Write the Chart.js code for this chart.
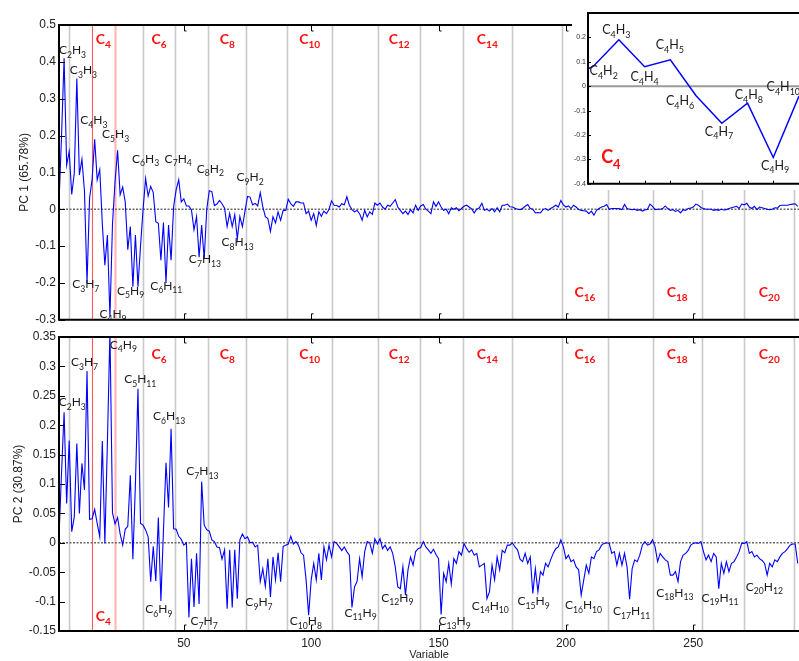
<!DOCTYPE html>
<html>
<head>
<meta charset="utf-8">
<script src="https://cdn.jsdelivr.net/npm/chart.js@4.4.1/dist/chart.umd.min.js"></script>
<style>
  html, body { margin: 0; padding: 0; background: #fff; }
  #wrap { position: relative; width: 799px; height: 661px; overflow: hidden; }
  canvas { position: absolute; }
</style>
</head>
<body>
<div id="wrap">
  <canvas id="pc1" width="799" height="330" style="left:0;top:0"></canvas>
  <canvas id="pc2" width="799" height="339" style="left:0;top:322px"></canvas>
  <canvas id="inset" width="227" height="190" style="left:572px;top:0;background:#fff"></canvas>
</div>
<script>
// Loadings of the first principal component, variables 1..291
const pc1Loadings = [
  0.016, 0.2, 0.41, 0.12, 0.157, 0.04, 0.098, 0.355, 0.093, 0.136,
  0.048, -0.2, 0.03, 0.081, 0.19, 0.08, 0.108, -0.039, -0.152, -0.07,
  -0.292, -0.04, 0.075, 0.16, 0.039, 0.06, 0.02, -0.11, -0.047, -0.21,
  -0.07, -0.21, -0.1, 0.0, 0.083, 0.036, 0.062, 0.045, -0.034, -0.038,
  -0.138, -0.036, -0.2, -0.043, -0.138, 0.007, 0.053, 0.08, 0.02, 0.028,
  0.009, 0.009, -0.002, -0.056, -0.02, -0.13, -0.043, -0.135, 0.0, 0.05,
  0.048, 0.01, 0.014, 0.024, 0.015, 0.003, -0.047, -0.011, -0.047, -0.015,
  -0.08, -0.02, -0.047, -0.006, 0.035, 0.033, 0.012, 0.016, 0.009, 0.045,
  0.007, -0.02, -0.025, -0.06, -0.02, -0.037, -0.007, -0.03, -0.003, -0.003,
  0.027, 0.015, 0.008, 0.02, 0.02, 0.017, 0.017, -0.012, -0.005, -0.03,
  -0.012, -0.044, -0.007, -0.019, -0.005, -0.012, 0.0, 0.023, 0.011, 0.01,
  0.006, 0.015, 0.012, 0.034, 0.011, -0.001, -0.007, -0.003, -0.012, -0.03,
  -0.003, -0.021, -0.007, -0.014, 0.017, 0.011, 0.017, 0.006, 0.0, 0.011,
  0.008, 0.017, 0.026, 0.006, -0.003, -0.012, -0.005, -0.014, -0.001, -0.01,
  0.011, -0.003, 0.009, 0.013, 0.0, -0.005, -0.012, 0.02, 0.008, 0.02,
  0.006, -0.003, 0.0, -0.012, 0.004, 0.0, 0.004, -0.004, 0.002, 0.008,
  0.011, 0.006, 0.001, -0.01, 0.0, 0.004, 0.016, -0.003, 0.0, -0.005,
  0.002, -0.007, 0.004, -0.007, 0.011, 0.011, 0.014, 0.007, 0.006, 0.003,
  0.0, -0.001, 0.002, 0.008, 0.013, 0.002, 0.0, -0.01, -0.009, -0.01,
  -0.001, 0.002, -0.003, 0.002, 0.006, 0.011, 0.006, 0.024, 0.012, 0.006,
  0.009, 0.002, 0.011, 0.006, -0.001, -0.003, -0.004, -0.005, -0.012, -0.005,
  -0.016, -0.003, 0.002, 0.006, 0.008, 0.013, 0.0, 0.002, 0.002, 0.002,
  0.001, -0.001, 0.013, 0.002, 0.0, -0.001, 0.0, -0.003, -0.001, -0.005,
  -0.002, 0.0, 0.014, 0.008, -0.001, 0.0, 0.0, 0.002, 0.009, 0.002,
  -0.003, -0.001, -0.006, -0.003, -0.01, -0.001, -0.003, 0.002, 0.003, 0.006,
  0.014, 0.011, 0.005, 0.002, 0.0, 0.0, 0.0, -0.003, -0.001, -0.003,
  0.0, -0.002, -0.001, 0.002, 0.004, 0.006, 0.008, 0.002, 0.014, 0.012,
  0.016, 0.006, 0.002, 0.008, -0.001, 0.006, 0.004, 0.002, 0.0, -0.001,
  0.0, 0.004, 0.003, 0.01, 0.011, 0.011, 0.011, 0.013, 0.014, 0.015,
  0.008
];

// Loadings of the second principal component, variables 1..291
const pc2Loadings = [
  0.01, 0.12, 0.222, 0.067, 0.174, 0.019, 0.044, 0.169, 0.05, 0.135,
  0.09, 0.292, 0.04, 0.041, 0.057, 0.033, 0.01, 0.173, -0.001, 0.17,
  0.36, 0.051, 0.032, 0.043, 0.015, -0.004, 0.023, 0.028, 0.115, -0.028,
  0.1, 0.262, 0.033, 0.03, 0.022, 0.01, -0.066, -0.006, -0.065, 0.043,
  -0.099, 0.02, 0.136, 0.06, 0.194, 0.024, 0.023, 0.011, 0.006, -0.004,
  0.0, -0.127, -0.027, -0.109, -0.018, -0.104, 0.104, 0.03, 0.022, 0.02,
  0.005, 0.002, -0.007, -0.008, -0.028, -0.012, -0.112, -0.012, -0.11, -0.012,
  -0.095, 0.005, 0.015, 0.007, 0.01, 0.0, 0.001, -0.007, -0.004, -0.066,
  -0.044, -0.074, -0.027, -0.092, -0.024, -0.063, -0.017, -0.066, -0.006, -0.004,
  -0.002, 0.011, -0.002, 0.002, -0.004, -0.017, -0.021, -0.063, -0.123, -0.063,
  -0.035, -0.063, -0.018, -0.063, -0.007, -0.029, -0.004, -0.024, 0.002, -0.001,
  -0.007, -0.013, -0.007, -0.015, -0.021, -0.11, -0.075, -0.066, -0.027, -0.058,
  -0.015, 0.002, 0.0, -0.018, 0.007, -0.002, 0.007, -0.01, -0.004, -0.013,
  -0.007, -0.018, -0.041, -0.075, -0.078, -0.041, -0.089, -0.046, -0.024, -0.038,
  -0.015, -0.01, -0.008, 0.002, -0.007, -0.012, -0.018, -0.011, -0.02, -0.027,
  -0.122, -0.052, -0.066, -0.035, -0.07, -0.027, -0.035, -0.015, -0.021, -0.001,
  -0.01, -0.016, -0.012, -0.021, -0.018, -0.041, -0.038, -0.035, -0.095, -0.083,
  -0.038, -0.063, -0.024, -0.046, -0.013, -0.017, -0.004, -0.004, 0.0, -0.007,
  -0.012, -0.028, -0.032, -0.018, -0.035, -0.024, -0.086, -0.044, -0.083, -0.049,
  -0.055, -0.035, -0.041, -0.029, -0.018, -0.01, -0.007, 0.005, -0.007, -0.027,
  -0.021, -0.032, -0.029, -0.041, -0.046, -0.089, -0.063, -0.038, -0.052, -0.024,
  -0.027, -0.015, -0.012, -0.004, -0.001, 0.0, -0.001, -0.018, -0.015, -0.038,
  -0.018, -0.038, -0.018, -0.041, -0.096, -0.044, -0.029, -0.032, -0.021, -0.004,
  0.002, -0.004, -0.002, 0.005, -0.007, -0.032, -0.018, -0.024, -0.029, -0.032,
  -0.055, -0.055, -0.049, -0.066, -0.032, -0.021, -0.018, -0.013, -0.004, -0.001,
  0.0, -0.001, 0.002, -0.015, -0.029, -0.021, -0.032, -0.018, -0.024, -0.078,
  -0.035, -0.052, -0.032, -0.049, -0.035, -0.032, -0.024, -0.015, -0.001, -0.001,
  0.002, -0.018, -0.015, -0.024, -0.021, -0.027, -0.03, -0.035, -0.055, -0.035,
  -0.041, -0.029, -0.032, -0.024, -0.018, -0.015, -0.01, -0.004, -0.002, -0.002,
  -0.035
];

// Separators between carbon-number groups (C2|C3, C3|C4, ... C20|C21), in variable units
const groupBounds = [4.8, 13.9, 22.8, 33.9, 46.6, 59.6, 74.5, 90.5, 108.3, 126.2,
                     142.9, 159.6, 178.7, 198.3, 216.6, 234.1, 253.3, 270.1, 289.6];

// Carbon numbers written in red above/below each even group
const pc1TopGroups = [4, 6, 8, 10, 12, 14];
const pc1BottomGroups = [16, 18, 20];
const pc2TopGroups = [6, 8, 10, 12, 14, 16, 18, 20];
const pc2BottomGroups = [4];

// Fragment labels: [formula, variable, loading]
const pc1Fragments = [
  ['C2H3', 6.3, 0.421], ['C3H3', 10.6, 0.367], ['C4H3', 14.7, 0.23], ['C5H3', 23.2, 0.192],
  ['C6H3', 35.0, 0.126], ['C7H4', 47.8, 0.126], ['C8H2', 60.4, 0.099], ['C9H2', 76.0, 0.076],
  ['C3H7', 11.5, -0.214], ['C4H9', 22.2, -0.295], ['C5H9', 29.1, -0.232], ['C6H11', 43.1, -0.218],
  ['C7H13', 58.3, -0.146], ['C8H13', 71.1, -0.1]
];
const pc2Fragments = [
  ['C2H3', 6.2, 0.232], ['C3H7', 11.0, 0.300], ['C4H9', 26.3, 0.330], ['C5H11', 32.9, 0.271],
  ['C6H13', 44.2, 0.208], ['C7H13', 57.3, 0.115], ['C6H9', 40.2, -0.12], ['C7H7', 58.0, -0.14],
  ['C9H7', 79.5, -0.108], ['C10H8', 97.9, -0.14], ['C11H9', 119.4, -0.126], ['C12H9', 133.8, -0.1],
  ['C13H9', 156.3, -0.14], ['C14H10', 170.3, -0.114], ['C15H9', 187.3, -0.106], ['C16H10', 206.9, -0.113],
  ['C17H11', 225.8, -0.123], ['C18H13', 242.8, -0.092], ['C19H11', 260.5, -0.1], ['C20H12', 277.9, -0.0815]
];
const c4Fragments = [
  ['C4H2', 14.41, 0.045], ['C4H3', 14.9, 0.212], ['C4H4', 16.0, 0.022], ['C4H5', 16.98, 0.151],
  ['C4H6', 17.38, -0.078], ['C4H7', 18.89, -0.203], ['C4H8', 20.05, -0.053], ['C4H9', 21.07, -0.342],
  ['C4H10', 21.39, -0.019]
];
const c4Tag = ['C4', 14.69, -0.316];

// Axis tick values
const variableTicks = [50, 100, 150, 200, 250];
const pc1Ticks = [-0.3, -0.2, -0.1, 0, 0.1, 0.2, 0.3, 0.4, 0.5];
const pc2Ticks = [-0.15, -0.1, -0.05, 0, 0.05, 0.1, 0.15, 0.2, 0.25, 0.3, 0.35];
const c4Ticks = [-0.4, -0.3, -0.2, -0.1, 0, 0.1, 0.2];
const c4Variables = [14, 15, 16, 17, 18, 19, 20, 21, 22];

const LABEL_FONT = "Lato, 'Open Sans', sans-serif";
const AXIS_FONT = "'Liberation Sans', Arial, sans-serif";

// Chemical formula with subscripted counts, centred on cx, main baseline at y
function drawFormula(ctx, text, cx, y, size, bold, color) {
  const parts = text.match(/[A-Za-z]+|\d+/g);
  const subSize = size * 0.72;
  const w8 = bold ? 'bold ' : '';
  let total = 0;
  const widths = parts.map(p => {
    ctx.font = w8 + (/\d/.test(p) ? subSize : size) + 'px ' + LABEL_FONT;
    const w = ctx.measureText(p).width;
    total += w;
    return w;
  });
  let x = cx - total / 2;
  ctx.fillStyle = color;
  ctx.textAlign = 'left';
  ctx.textBaseline = 'alphabetic';
  parts.forEach((p, k) => {
    const isNum = /\d/.test(p);
    ctx.font = w8 + (isNum ? subSize : size) + 'px ' + LABEL_FONT;
    ctx.fillText(p, x, isNum ? y + size * 0.3 : y);
    x += widths[k];
  });
}

const decor = {
  id: 'decor',
  beforeDatasetsDraw(chart, args, o) {
    const { ctx, chartArea: a, scales: { x, y } } = chart;
    ctx.save();
    ctx.beginPath();
    ctx.rect(a.left, a.top, a.right - a.left, a.bottom - a.top);
    ctx.clip();
    (o.bounds || []).forEach((b, k) => {
      const px = Math.round(x.getPixelForValue(b)) + 0.5;
      if (k === 1) { ctx.strokeStyle = '#ff5a5a'; ctx.lineWidth = 1.1; }
      else if (k === 2) { ctx.strokeStyle = '#ffb8b8'; ctx.lineWidth = 2.2; }
      else { ctx.strokeStyle = '#c9c9c9'; ctx.lineWidth = 1.6; }
      ctx.beginPath(); ctx.moveTo(px, a.top); ctx.lineTo(px, a.bottom); ctx.stroke();
    });
    const zy = y.getPixelForValue(0);
    ctx.strokeStyle = o.zeroColor;
    ctx.lineWidth = o.zeroWidth;
    ctx.setLineDash(o.zeroDash);
    ctx.beginPath(); ctx.moveTo(a.left, zy); ctx.lineTo(a.right, zy); ctx.stroke();
    ctx.restore();
  },
  afterDatasetsDraw(chart, args, o) {
    const { ctx, chartArea: a, scales: { x, y } } = chart;
    ctx.save();
    ctx.beginPath();
    ctx.rect(a.left, a.top, a.right - a.left, a.bottom - a.top);
    ctx.clip();
    (o.fragments || []).forEach(([t, vx, vy]) => {
      drawFormula(ctx, t, x.getPixelForValue(vx), y.getPixelForValue(vy), o.labelSize, false, '#1a1a1a');
    });
    const center = n => (o.bounds[n - 3] + o.bounds[n - 2]) / 2;
    (o.topGroups || []).forEach(n => {
      drawFormula(ctx, 'C' + n, x.getPixelForValue(center(n)), a.top + o.topOffset, 14, true, '#ff1010');
    });
    (o.bottomGroups || []).forEach(n => {
      drawFormula(ctx, 'C' + n, x.getPixelForValue(center(n)), a.bottom - o.bottomOffset, 14, true, '#ff1010');
    });
    if (o.tag) {
      drawFormula(ctx, o.tag[0], x.getPixelForValue(o.tag[1]), y.getPixelForValue(o.tag[2]), 18, true, '#ff1010');
    }
    ctx.restore();

    // frame (the right side runs past the page edge)
    ctx.save();
    ctx.strokeStyle = '#000';
    ctx.lineWidth = o.frameWidth;
    ctx.beginPath();
    ctx.moveTo(a.right + 2, a.top); ctx.lineTo(a.left, a.top);
    ctx.lineTo(a.left, a.bottom); ctx.lineTo(a.right + 2, a.bottom);
    ctx.stroke();
    // inward tick marks
    ctx.lineWidth = 1;
    (o.yTicks || []).forEach(v => {
      const py = Math.round(y.getPixelForValue(v)) + 0.5;
      ctx.beginPath(); ctx.moveTo(a.left, py); ctx.lineTo(a.left + o.tickLen, py); ctx.stroke();
    });
    (o.xTicks || []).forEach(v => {
      const px = Math.round(x.getPixelForValue(v)) + 0.5;
      ctx.beginPath(); ctx.moveTo(px, a.bottom); ctx.lineTo(px, a.bottom - o.tickLen);
      if (o.hooks) ctx.lineTo(px + 2, a.bottom - o.tickLen);
      ctx.stroke();
      if (o.topTicks) {
        ctx.beginPath(); ctx.moveTo(px, a.top); ctx.lineTo(px, a.top + o.tickLen);
        if (o.hooks) ctx.lineTo(px + 2, a.top + o.tickLen);
        ctx.stroke();
      }
    });
    ctx.restore();
  }
};

function series(values, first) {
  return values.map((v, k) => ({ x: first + k, y: v }));
}

function fmt(v) { return String(+(+v).toFixed(2)); }

function panel(id, data, cfg) {
  return new Chart(document.getElementById(id), {
    type: 'line',
    data: { datasets: [{ data, borderColor: '#0000ff', borderWidth: cfg.lineWidth, pointRadius: 0, tension: 0, fill: false }] },
    options: {
      responsive: false,
      animation: false,
      devicePixelRatio: 1,
      parsing: false,
      layout: { padding: cfg.padding },
      plugins: { legend: { display: false }, tooltip: { enabled: false }, decor: cfg.decor },
      scales: {
        x: {
          type: 'linear', min: cfg.xMin, max: cfg.xMax,
          display: cfg.showX,
          grid: { display: false, drawTicks: false },
          border: { display: false },
          afterBuildTicks: s => { s.ticks = cfg.xTicks.map(v => ({ value: v })); },
          afterFit: s => { if (cfg.showX) s.height = cfg.xHeight; },
          ticks: { color: '#222', font: { family: AXIS_FONT, size: 12 }, padding: 5, maxRotation: 0, callback: v => String(v) },
          title: { display: cfg.showX, text: 'Variable', color: '#222', font: { family: AXIS_FONT, size: 11 }, padding: { top: 0, bottom: -1 } }
        },
        y: {
          type: 'linear', min: cfg.yMin, max: cfg.yMax,
          grid: { display: false, drawTicks: false },
          border: { display: false },
          afterBuildTicks: s => { s.ticks = cfg.yTicks.map(v => ({ value: v })); },
          afterFit: s => { s.width = cfg.yWidth; },
          ticks: { color: cfg.tickColor, font: { family: AXIS_FONT, size: cfg.tickSize }, padding: cfg.tickPad, callback: fmt },
          title: { display: !!cfg.yTitle, text: cfg.yTitle, color: '#222', font: { family: AXIS_FONT, size: 12 }, padding: { top: cfg.titlePad } }
        }
      }
    },
    plugins: [decor]
  });
}

panel('pc1', series(pc1Loadings, 1), {
  xMin: 1, xMax: 291.5, yMin: -0.3, yMax: 0.5, showX: false, xTicks: variableTicks, yTicks: pc1Ticks,
  padding: { top: 25, bottom: 10, left: 0, right: 0 }, yWidth: 59, tickPad: 3, tickSize: 12, tickColor: '#222',
  yTitle: 'PC 1 (65.78%)', titlePad: 17, lineWidth: 1.1,
  decor: {
    bounds: groupBounds, zeroColor: '#6a6a6a', zeroWidth: 1.4, zeroDash: [2, 1.5],
    fragments: pc1Fragments, labelSize: 12, topGroups: pc1TopGroups, bottomGroups: pc1BottomGroups,
    topOffset: 19, bottomOffset: 23, frameWidth: 2, yTicks: pc1Ticks, xTicks: variableTicks,
    tickLen: 6, topTicks: true, hooks: true
  }
});

panel('pc2', series(pc2Loadings, 1), {
  xMin: 1, xMax: 291.5, yMin: -0.15, yMax: 0.35, showX: true, xHeight: 30, xTicks: variableTicks, yTicks: pc2Ticks,
  padding: { top: 15, bottom: 0, left: 0, right: 0 }, yWidth: 59, tickPad: 3, tickSize: 12, tickColor: '#222',
  yTitle: 'PC 2 (30.87%)', titlePad: 11.5, lineWidth: 1.1,
  decor: {
    bounds: groupBounds, zeroColor: '#6a6a6a', zeroWidth: 1.4, zeroDash: [2, 1.5],
    fragments: pc2Fragments, labelSize: 12, topGroups: pc2TopGroups, bottomGroups: pc2BottomGroups,
    topOffset: 22, bottomOffset: 10, frameWidth: 2, yTicks: pc2Ticks, xTicks: variableTicks,
    tickLen: 6, topTicks: true, hooks: true
  }
});

panel('inset', series(pc1Loadings.slice(12, 22), 13), {
  xMin: 13.8, xMax: 22, yMin: -0.4, yMax: 0.3, showX: false, xTicks: c4Variables, yTicks: c4Ticks,
  padding: { top: 13, bottom: 5, left: 0, right: 0 }, yWidth: 16, tickPad: 2, tickSize: 7, tickColor: '#333',
  yTitle: '', titlePad: 0, lineWidth: 1.5,
  decor: {
    bounds: [], zeroColor: '#9a9a9a', zeroWidth: 2, zeroDash: [],
    fragments: c4Fragments, labelSize: 12.5, tag: c4Tag, frameWidth: 2,
    yTicks: c4Ticks, xTicks: c4Variables, tickLen: 3, topTicks: false, hooks: false
  }
});
</script>
</body>
</html>
